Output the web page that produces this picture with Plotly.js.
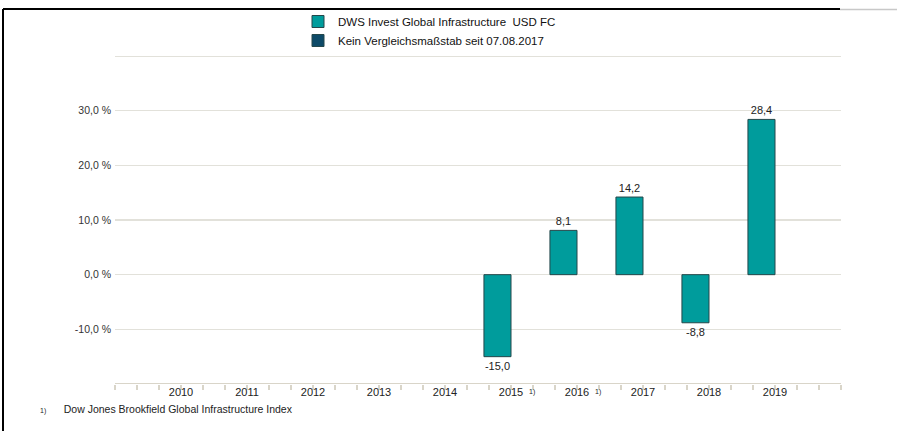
<!DOCTYPE html>
<html>
<head>
<meta charset="utf-8">
<script src="https://cdn.plot.ly/plotly-3.0.1.min.js"></script>
<style>
  html, body { margin: 0; padding: 0; background: #fff; }
  #chart { width: 897px; height: 431px; }
</style>
</head>
<body>
<div id="chart"></div>
<script>
const years = [2010, 2011, 2012, 2013, 2014, 2015, 2016, 2017, 2018, 2019];
const fundValues = [null, null, null, null, null, -15.0, 8.1, 14.2, -8.8, 28.4];
const benchmarkValues = [null, null, null, null, null, null, null, null, null, null];
const yTickValues = [-10, 0, 10, 20, 30];
const yTickLabels = ['-10,0 %', '0,0 %', '10,0 %', '20,0 %', '30,0 %'];
const footnoteYears = [2015, 2016];
const fundName = 'DWS Invest Global Infrastructure  USD FC';
const benchmarkName = 'Kein Vergleichsmaßstab seit 07.08.2017';
const footnoteText = 'Dow Jones Brookfield Global Infrastructure Index';

const W = 897, H = 431;
const L = 115, R = 56, T = 56, B = 47;
const pw = W - L - R, ph = H - T - B;
const px = x => (x - L) / pw;
const py = y => (H - B - y) / ph;

const fmt = v => v == null ? '' : v.toFixed(1).replace('.', ',');

const fund = {
  type: 'bar', name: fundName, x: years, y: fundValues,
  marker: { color: '#009c9c', line: { color: '#24474a', width: 1 } },
  text: fundValues.map(fmt), textposition: 'outside', cliponaxis: false,
  textfont: { family: 'Liberation Sans, Arial, sans-serif', size: 11, color: '#222' },
  hoverinfo: 'skip'
};
const bench = {
  type: 'bar', name: benchmarkName, x: years, y: benchmarkValues,
  marker: { color: '#0d4a68', line: { color: '#24474a', width: 1 } },
  hoverinfo: 'skip'
};

const annotations = footnoteYears.map(yr => ({
  x: yr, y: 0, xref: 'x', yref: 'paper', yanchor: 'top', xanchor: 'left',
  xshift: 16, yshift: -2, text: '1)', showarrow: false,
  font: { family: 'Liberation Sans, Arial, sans-serif', size: 7, color: '#222' }
}));
annotations.push({
  x: px(38), y: py(409), xref: 'paper', yref: 'paper', xanchor: 'left', yanchor: 'middle',
  text: '<span style="font-size:7px">1)</span>      ' + footnoteText, showarrow: false,
  font: { family: 'Liberation Sans, Arial, sans-serif', size: 10.5, color: '#222' }
});

const shapes = [
  { type: 'line', xref: 'paper', yref: 'y', x0: 0, x1: 1, y0: 40, y1: 40,
    line: { color: '#e2e1da', width: 2 } },
  { type: 'line', xref: 'paper', yref: 'y', x0: 0, x1: 1, y0: -20, y1: -20,
    line: { color: '#d9d5c9', width: 2 } },
  { type: 'line', xref: 'paper', yref: 'paper', x0: px(3), x1: px(840), y0: py(9), y1: py(9),
    line: { color: '#000', width: 2 } },
  { type: 'line', xref: 'paper', yref: 'paper', x0: px(840), x1: px(897), y0: py(9.5), y1: py(9.5),
    line: { color: '#c8c8c8', width: 1.5 } },
  { type: 'line', xref: 'paper', yref: 'paper', x0: px(3), x1: px(3), y0: py(9), y1: py(431),
    line: { color: '#000', width: 2 } }
];

const layout = {
  width: W, height: H,
  margin: { l: L, r: R, t: T, b: B, pad: 0, autoexpand: false },
  paper_bgcolor: '#fff', plot_bgcolor: '#fff',
  separators: ',.',
  barmode: 'group', bargap: 0.18, bargroupgap: 0,
  font: { family: 'Liberation Sans, Arial, sans-serif', size: 11, color: '#222' },
  showlegend: true,
  legend: {
    x: px(298), y: py(7), xanchor: 'left', yanchor: 'top',
    orientation: 'v', bgcolor: 'rgba(0,0,0,0)', tracegroupgap: 0,
    font: { family: 'Liberation Sans, Arial, sans-serif', size: 11.5, color: '#111' },
    traceorder: 'normal'
  },
  xaxis: {
    type: 'linear', range: [2009, 2020], tickvals: years, ticktext: years.map(String),
    showgrid: false, zeroline: false, showline: false, ticks: '',
    tickfont: { size: 11, color: '#222' },
    minor: { dtick: 1 / 3, tick0: 2009, ticks: 'outside', ticklen: 5, tickcolor: '#d9d5c9', tickwidth: 1.5, showgrid: false }
  },
  yaxis: {
    range: [-20, 40], tickvals: yTickValues, ticktext: yTickLabels,
    showgrid: true, gridcolor: '#e2e1da', gridwidth: 1.5,
    zeroline: false, showline: false, ticks: '',
    tickfont: { size: 10.5, color: '#333' }, ticklabelstandoff: 3
  },
  shapes: shapes,
  annotations: annotations
};

Plotly.newPlot('chart', [fund, bench], layout, { displayModeBar: false, staticPlot: true });
</script>
</body>
</html>
